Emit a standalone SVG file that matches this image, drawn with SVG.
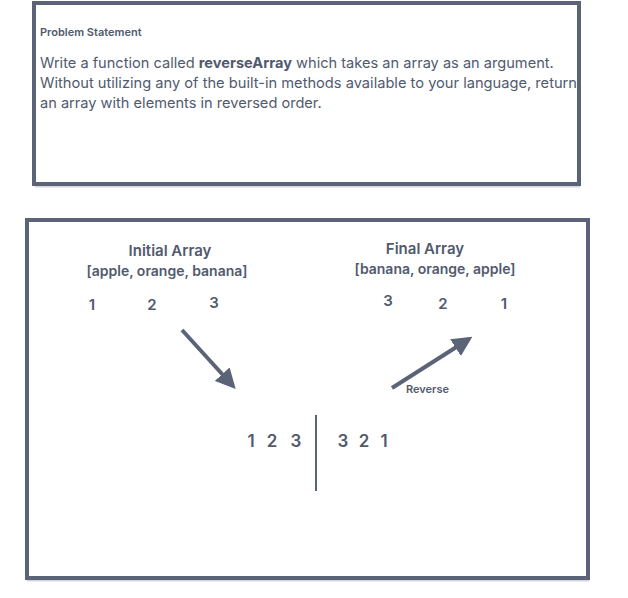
<svg xmlns="http://www.w3.org/2000/svg" width="628" height="598" viewBox="0 0 628 598">
<defs>
<style>
.box{fill:#ffffff;stroke:#5b6377;stroke-width:4}
.shadow{fill:none;stroke:#d3d6de;stroke-width:2}
.t{font-family:Inter,"Noto Sans","Liberation Sans",sans-serif;fill:#515a6e}
.title{font-size:11px;font-weight:600}
.body{font-size:14.6px;font-weight:400}
.head{font-size:15px;font-weight:600;text-anchor:middle}
.arr{font-size:14px;font-weight:600;text-anchor:middle}
.num{font-size:15px;font-weight:600;text-anchor:middle}
.big{font-size:17px;font-weight:600;text-anchor:middle}
.small{font-size:11px;font-weight:600}
.conn{stroke:#5b6377;stroke-width:4;fill:none}
</style>
<marker id="ah" viewBox="0 0 10 10" refX="8" refY="5" markerWidth="5" markerHeight="5" markerUnits="strokeWidth" orient="auto">
<path d="M0,0 L10,5 L0,10 Z" fill="#5b6377"/>
</marker>
</defs>
<rect width="628" height="598" fill="#ffffff"/>
<g id="problem">
<line class="shadow" x1="35" y1="186.5" x2="580" y2="186.5"/>
<rect class="box" x="34" y="3" width="545" height="181"/>
<text class="t title" x="40" y="36">Problem Statement</text>
<text class="t body" x="40" y="68">Write a function called <tspan font-weight="700">reverseArray</tspan> which takes an array as an argument.</text>
<text class="t body" x="40" y="88" textLength="537" lengthAdjust="spacingAndGlyphs">Without utilizing any of the built-in methods available to your language, return</text>
<text class="t body" x="40" y="108">an array with elements in reversed order.</text>
</g>
<g id="canvas">
<line class="shadow" x1="27" y1="580.5" x2="589" y2="580.5"/>
<rect class="box" x="27" y="220" width="561" height="358"/>
</g>
<g id="initial">
<text class="t head" x="170" y="256">Initial Array</text>
<text class="t arr" x="167" y="276">[apple, orange, banana]</text>
<text class="t num" x="92" y="310">1</text>
<text class="t num" x="152" y="310">2</text>
<text class="t num" x="214" y="308">3</text>
</g>
<g id="final">
<text class="t head" x="425" y="254">Final Array</text>
<text class="t arr" x="435" y="274">[banana, orange, apple]</text>
<text class="t num" x="388" y="306">3</text>
<text class="t num" x="443" y="309">2</text>
<text class="t num" x="504" y="309">1</text>
</g>
<g id="split">
<text class="t big" x="251" y="447">1</text>
<text class="t big" x="272" y="447">2</text>
<text class="t big" x="296" y="447">3</text>
<line x1="316" y1="415" x2="316" y2="491" stroke="#5b6377" stroke-width="2"/>
<text class="t big" x="343" y="447">3</text>
<text class="t big" x="364" y="447">2</text>
<text class="t big" x="384" y="447">1</text>
</g>
<g id="connectors">
<line class="conn" x1="182" y1="330" x2="233" y2="386" marker-end="url(#ah)"/>
<line class="conn" x1="392" y1="388" x2="469" y2="339" marker-end="url(#ah)"/>
<text class="t small" x="406" y="393">Reverse</text>
</g>
</svg>
